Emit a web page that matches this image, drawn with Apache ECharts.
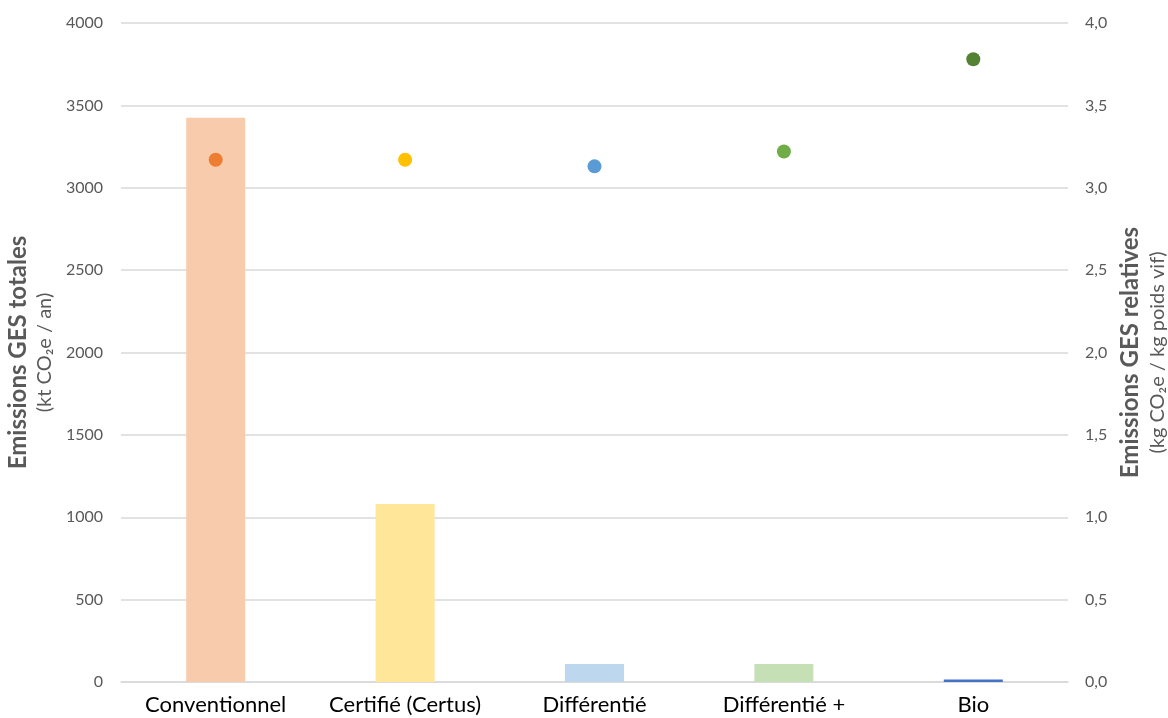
<!DOCTYPE html>
<html>
<head>
<meta charset="utf-8">
<script src="https://cdn.jsdelivr.net/npm/echarts@6/dist/echarts.min.js"></script>
<style>
  html, body { margin: 0; padding: 0; background: #fff; }
  #chart { width: 1168px; height: 718px; }
</style>
</head>
<body>
<div id="chart"></div>
<script>
// categories and values
const categories = ['Conventionnel', 'Certifié (Certus)', 'Différentié', 'Différentié +', 'Bio']
const totalEmissions = [3425, 1080, 110, 110, 15] // kt CO2e / an
const relativeEmissions = [3.17, 3.17, 3.13, 3.22, 3.78] // kg CO2e / kg poids vif
const leftTicks = [0, 4000, 500]
const rightTicks = [0, 4, 0.5]

const barColors = ['#F8CBAD', '#FFE699', '#BDD7EE', '#C5E0B4', '#4472C4']
const dotColors = ['#ED7D31', '#FFC000', '#5B9BD5', '#70AD47', '#548235']

const chart = echarts.init(document.getElementById('chart'))

const nameRich = {
  b: { fontFamily: 'Lato', fontWeight: 'bold', fontSize: 24, color: '#595959', lineHeight: 28 },
  n: { fontFamily: 'Lato', fontSize: 20, color: '#595959', lineHeight: 26 }
}

chart.setOption({
  animation: false,
  grid: { left: 121, right: 100, top: 23, bottom: 36, outerBoundsMode: 'none', containLabel: false },
  xAxis: {
    type: 'category',
    data: categories,
    axisTick: { show: false },
    axisLine: { lineStyle: { color: '#D9D9D9', width: 1.5 } },
    axisLabel: { color: '#000', fontFamily: 'Lato', fontSize: 22, margin: 12, interval: 0 }
  },
  yAxis: [
    {
      type: 'value',
      min: leftTicks[0],
      max: leftTicks[1],
      interval: leftTicks[2],
      name: '{b|Emissions GES totales}\n{n|(kt CO₂e / an)}',
      nameLocation: 'middle',
      nameRotate: 90,
      nameGap: 60,
      nameTextStyle: { rich: nameRich },
      axisLine: { show: false },
      axisTick: { show: false },
      axisLabel: { color: '#595959', fontFamily: 'Lato', fontSize: 16, margin: 18, formatter: v => String(v) },
      splitLine: { lineStyle: { color: '#D9D9D9', width: 1.5 } }
    },
    {
      type: 'value',
      position: 'right',
      min: rightTicks[0],
      max: rightTicks[1],
      interval: rightTicks[2],
      name: '{b|Emissions GES relatives}\n{n|(kg CO₂e / kg poids vif)}',
      nameLocation: 'middle',
      nameRotate: 90,
      nameGap: 48,
      nameTextStyle: { rich: nameRich },
      axisLine: { show: false },
      axisTick: { show: false },
      axisLabel: {
        color: '#595959', fontFamily: 'Lato', fontSize: 16, margin: 17,
        formatter: v => v.toFixed(1).replace('.', ',')
      },
      splitLine: { show: false }
    }
  ],
  series: [
    {
      type: 'bar',
      yAxisIndex: 0,
      barWidth: 59,
      data: totalEmissions.map((v, i) => ({ value: v, itemStyle: { color: barColors[i] } }))
    },
    {
      type: 'scatter',
      yAxisIndex: 1,
      symbolSize: 14,
      itemStyle: { opacity: 1 },
      data: relativeEmissions.map((v, i) => ({ value: v, itemStyle: { color: dotColors[i], opacity: 1 } }))
    }
  ]
})
</script>
</body>
</html>
